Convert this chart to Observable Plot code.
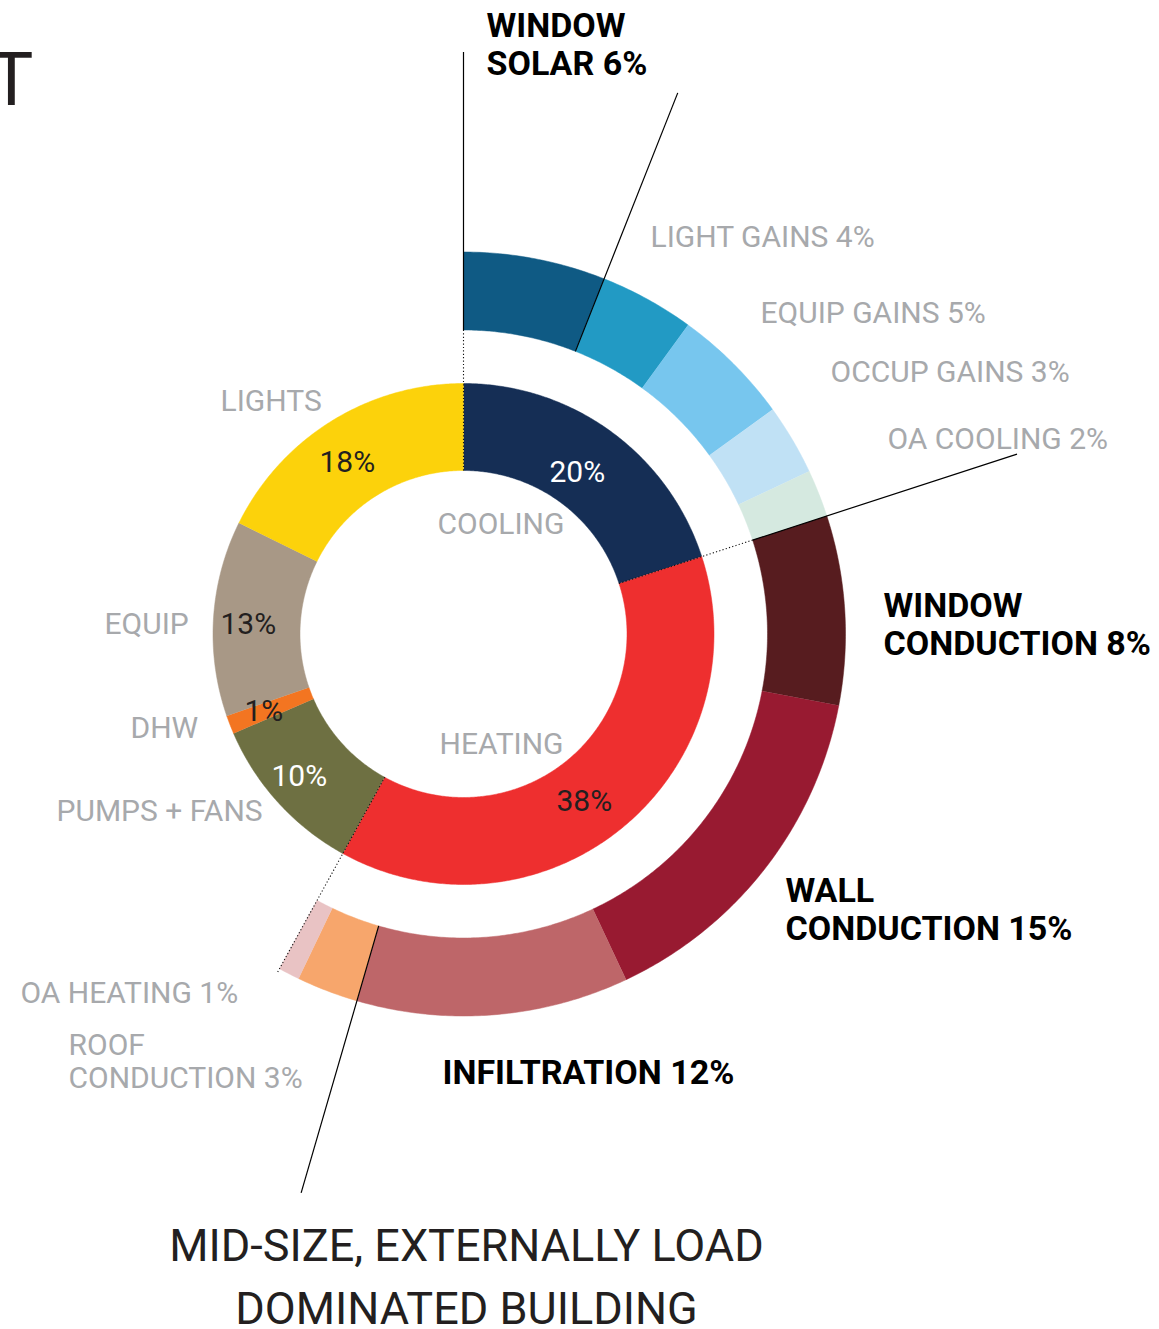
<!DOCTYPE html>
<html><head><meta charset="utf-8">
<script src="https://cdn.jsdelivr.net/npm/d3@7"></script>
<script src="https://cdn.jsdelivr.net/npm/@observablehq/plot@0.6"></script>
<style>
html,body{margin:0;padding:0;background:#fff;}
#chart svg{display:block;}
g[aria-label="subtitle"] text{letter-spacing:-2.3px;}
g[aria-label="bold labels"] text{letter-spacing:-0.3px;}
</style></head><body><div id="chart"></div>
<script>
// ---- data (percent of total energy use) ----
const innerCategories = ["COOLING", "HEATING", "PUMPS + FANS", "DHW", "EQUIP", "LIGHTS"];
const innerValues = [20, 38, 10.5, 1.2, 12.6, 17.7];
const innerColors = ["#152e55", "#ee2f2f", "#6e7042", "#f37521", "#a89886", "#fcd20b"];
const innerPercentLabels = ["20%", "38%", "10%", "1%", "13%", "18%"];

const outerCategories = ["WINDOW SOLAR", "LIGHT GAINS", "EQUIP GAINS", "OCCUP GAINS", "OA COOLING",
  "WINDOW CONDUCTION", "WALL CONDUCTION", "INFILTRATION", "ROOF CONDUCTION", "OA HEATING"];
const outerValues = [6, 4, 5, 3, 2, 8, 15, 11.5, 2.6, 0.9];
const outerColors = ["#0f5a84", "#229ac4", "#77c6ee", "#c0e1f5", "#d5e9e0",
  "#571c1f", "#981a31", "#be6669", "#f7a66c", "#e9c3c4"];
const outerPercentLabels = ["6%", "4%", "5%", "3%", "2%", "8%", "15%", "12%", "3%", "1%"];

const subtitleLines = ["MID-SIZE, EXTERNALLY LOAD", "DOMINATED BUILDING"];

// ---- layout ----
const W = 1159, H = 1329, CX = 463, CY = 633.5;
const R_IN0 = 163.5, R_IN1 = 250.5, R_OUT0 = 304, R_OUT1 = 382, R_LEAD = 582;
const FONT = 'Roboto, "Liberation Sans", sans-serif';

const polar = (a, r) => ({x: CX + r * Math.sin(a * Math.PI / 180), y: CY - r * Math.cos(a * Math.PI / 180)});
const cumAngles = (vals) => { let acc = 0; return vals.map(v => { const a0 = acc * 3.6; acc += v; return [a0, acc * 3.6]; }); };

function ringPolys(keys, vals, r0, r1) {
  const pts = [];
  cumAngles(vals).forEach(([a0, a1], i) => {
    const n = Math.max(2, Math.ceil((a1 - a0) / 0.5));
    for (let j = 0; j <= n; j++) pts.push({key: keys[i], ...polar(a0 + (a1 - a0) * j / n, r1)});
    for (let j = n; j >= 0; j--) pts.push({key: keys[i], ...polar(a0 + (a1 - a0) * j / n, r0)});
  });
  return pts;
}

const innerPts = ringPolys(innerCategories, innerValues, R_IN0, R_IN1);
const outerPts = ringPolys(outerCategories, outerValues, R_OUT0, R_OUT1);
const outerA = cumAngles(outerValues);
const innerA = cumAngles(innerValues);

// leader lines at group boundaries of outer ring
const leaderAngles = [outerA[0][0], outerA[0][1], outerA[4][1], outerA[7][1]];
const leaders = leaderAngles.map(a => { const p = polar(a, R_OUT0), q = polar(a, R_LEAD); return {x1: p.x, y1: p.y, x2: q.x, y2: q.y}; });
// dotted separators between cooling / heating / other
const dotted = [[innerA[0][0], R_OUT0], [innerA[0][1], R_OUT0], [innerA[1][1], R_OUT1 + 4]].map(([a, r]) => {
  const p = polar(a, R_IN0), q = polar(a, r); return {x1: p.x, y1: p.y, x2: q.x, y2: q.y};
});

// annotation positions (left x, baseline y)
const boldLabels = [
  {text: "WINDOW\nSOLAR " + outerPercentLabels[0], x: 486, y: 74},
  {text: "WINDOW\nCONDUCTION " + outerPercentLabels[5], x: 883, y: 654},
  {text: "WALL\nCONDUCTION " + outerPercentLabels[6], x: 785, y: 939},
  {text: "INFILTRATION " + outerPercentLabels[7], x: 442, y: 1083}
];
const grayLabels = [
  {text: "LIGHT GAINS " + outerPercentLabels[1], x: 650, y: 246},
  {text: "EQUIP GAINS " + outerPercentLabels[2], x: 760, y: 322},
  {text: "OCCUP GAINS " + outerPercentLabels[3], x: 830, y: 381},
  {text: "OA COOLING " + outerPercentLabels[4], x: 887, y: 448},
  {text: "OA HEATING " + outerPercentLabels[9], x: 20, y: 1002},
  {text: "ROOF\nCONDUCTION " + outerPercentLabels[8], x: 68, y: 1087},
  {text: "LIGHTS", x: 220, y: 410},
  {text: "EQUIP", x: 104, y: 633},
  {text: "DHW", x: 130, y: 737},
  {text: "PUMPS + FANS", x: 56, y: 820},
  {text: "COOLING", x: 437, y: 533},
  {text: "HEATING", x: 439, y: 753}
];
const pctLabels = [
  {text: innerPercentLabels[0], x: 549, y: 481, c: "#ffffff"},
  {text: innerPercentLabels[1], x: 556, y: 810, c: "#231f20"},
  {text: innerPercentLabels[2], x: 271, y: 785, c: "#ffffff"},
  {text: innerPercentLabels[3], x: 244, y: 720, c: "#231f20"},
  {text: innerPercentLabels[4], x: 220, y: 633, c: "#231f20"},
  {text: innerPercentLabels[5], x: 319, y: 471, c: "#231f20"}
];

const chart = Plot.plot({
  width: W, height: H, margin: 0,
  x: {domain: [0, W], range: [0, W], axis: null},
  y: {domain: [0, H], range: [0, H], axis: null},
  color: {domain: [...innerCategories, ...outerCategories], range: [...innerColors, ...outerColors]},
  style: {fontFamily: FONT, background: "#fff", overflow: "visible"},
  marks: [
    Plot.line(innerPts, {x: "x", y: "y", z: "key", fill: "key", stroke: "key", strokeWidth: 0.5, curve: "linear"}),
    Plot.line(outerPts, {x: "x", y: "y", z: "key", fill: "key", stroke: "key", strokeWidth: 0.5, curve: "linear"}),
    Plot.link(dotted, {x1: "x1", y1: "y1", x2: "x2", y2: "y2", stroke: "#111", strokeWidth: 1.1, strokeDasharray: "1.2,2.2"}),
    Plot.link(leaders, {x1: "x1", y1: "y1", x2: "x2", y2: "y2", stroke: "#000", strokeWidth: 1.2}),
    Plot.text(boldLabels, {x: "x", y: "y", text: "text", textAnchor: "start", lineAnchor: "bottom", lineHeight: 1.1, fontSize: 34, fontWeight: "bold", fill: "#000", ariaLabel: "bold labels"}),
    Plot.text(grayLabels, {x: "x", y: "y", text: "text", textAnchor: "start", lineAnchor: "bottom", lineHeight: 1.08, fontSize: 30, fill: "#a7a9ac", ariaLabel: "gray labels"}),
    Plot.text(pctLabels, {x: "x", y: "y", text: "text", textAnchor: "start", lineAnchor: "bottom", fontSize: 30, fill: "c", ariaLabel: "percent labels"}),
    Plot.text([subtitleLines.join("\n")], {x: () => 466, y: () => 1323, text: d => d, textAnchor: "middle", lineAnchor: "bottom", lineHeight: 1.4, fontSize: 45, fill: "#231f20", ariaLabel: "subtitle"}),
    Plot.text(["T"], {x: () => 33, y: () => 104, text: d => d, textAnchor: "end", lineAnchor: "bottom", fontSize: 74, fill: "#231f20"})
  ]
});
document.getElementById("chart").appendChild(chart);
</script>
</body></html>
